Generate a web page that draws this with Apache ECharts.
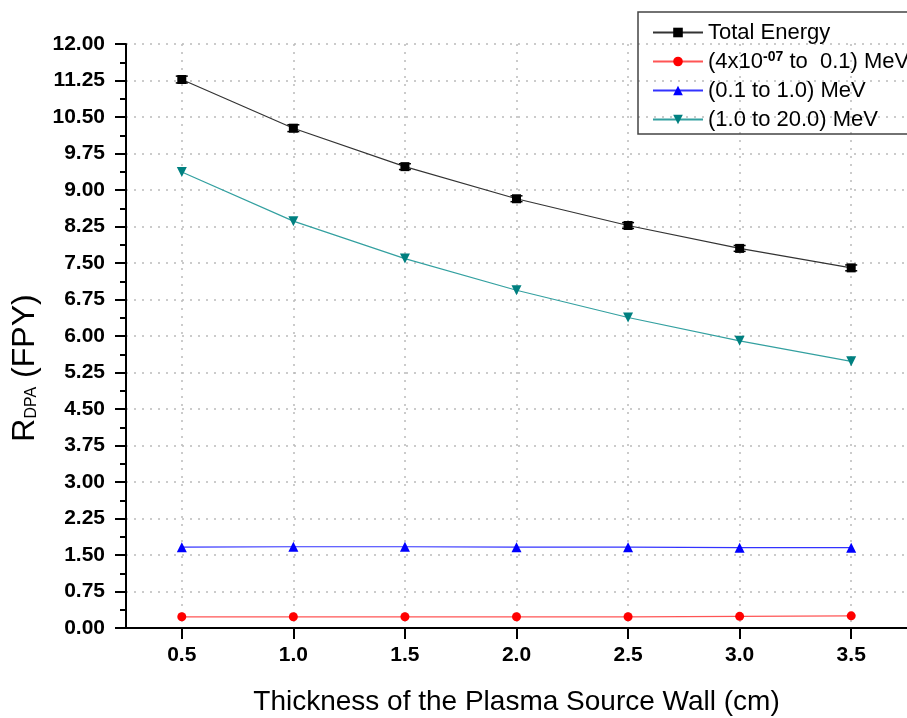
<!DOCTYPE html>
<html>
<head>
<meta charset="utf-8">
<script src="https://cdn.jsdelivr.net/npm/echarts@6/dist/echarts.min.js"></script>
<style>html,body{margin:0;padding:0;background:#fff}#c{width:907px;height:718px}</style>
</head>
<body>
<div id="c"></div>
<script>
var thickness = [0.5, 1.0, 1.5, 2.0, 2.5, 3.0, 3.5];
var totalEnergy = [11.27, 10.27, 9.48, 8.82, 8.27, 7.80, 7.40];
var totalErr = [0.07, 0.07, 0.06, 0.06, 0.06, 0.06, 0.06];
var lowEnergy = [0.23, 0.23, 0.23, 0.23, 0.23, 0.24, 0.25];
var midEnergy = [1.66, 1.67, 1.67, 1.66, 1.66, 1.65, 1.65];
var highEnergy = [9.37, 8.36, 7.59, 6.94, 6.38, 5.90, 5.48];
var seriesNames = ['Total Energy', '(4x10{sup|-07} to  0.1) MeV', '(0.1 to 1.0) MeV', '(1.0 to 20.0) MeV'];
var legendKeys = ['Total Energy', 'low', 'mid', 'high'];

function pairs(ys) { return thickness.map(function (x, i) { return [x, ys[i]]; }); }
var errData = thickness.map(function (x, i) { return [x, totalEnergy[i] - totalErr[i], totalEnergy[i] + totalErr[i]]; });

var chart = echarts.init(document.getElementById('c'));
var font = 'Liberation Sans, Arial, sans-serif';
chart.setOption({
  animation: false,
  backgroundColor: '#fff',
  grid: { left: 126, right: 0, top: 44, bottom: 90, containLabel: false, outerBoundsMode: 'none' },
  legend: {
    orient: 'vertical',
    left: 638, top: 12,
    data: legendKeys,
    itemWidth: 50, itemHeight: 12, itemGap: 6,
    padding: [9, 10, 3, 14],
    borderColor: '#444', borderWidth: 1.5,
    textStyle: { fontFamily: font, fontSize: 22, color: '#000', lineHeight: 23,
      rich: { sup: { fontSize: 14, verticalAlign: 'top', lineHeight: 14, fontFamily: font, fontWeight: 'bold', padding: [0, 0, 8, 0] } } },
    formatter: function (n) { return seriesNames[legendKeys.indexOf(n)]; }
  },
  xAxis: {
    type: 'value', min: 0.25, max: 3.75, interval: 0.5,
    name: 'Thickness of the Plasma Source Wall (cm)', nameLocation: 'middle', nameGap: 60,
    nameTextStyle: { fontFamily: font, fontSize: 28, color: '#000' },
    axisLine: { show: true, lineStyle: { color: '#000', width: 2 } },
    axisTick: { show: true, length: 11, lineStyle: { color: '#000', width: 2 },
      customValues: thickness },
    axisLabel: { fontFamily: font, fontSize: 21, fontWeight: 'bold', color: '#000', margin: 17,
      formatter: function (v) { return v.toFixed(1); }, customValues: thickness },
    splitLine: { show: true, lineStyle: { color: '#bbb', type: [2, 6], width: 1.5 } },
    minorTick: { show: false }
  },
  yAxis: {
    type: 'value', min: 0, max: 12, interval: 0.75,
    name: '{r|R}{sub|DPA}{r| (FPY)}', nameLocation: 'middle', nameGap: 78, nameRotate: 90,
    nameTextStyle: { fontFamily: font, fontSize: 32, color: '#000', padding: [0, 64, 0, 0],
      rich: { r: { fontFamily: font, fontSize: 32, lineHeight: 30, color: '#000', verticalAlign: 'top' },
              sub: { fontFamily: font, fontSize: 16, lineHeight: 16, color: '#000', verticalAlign: 'bottom', padding: [25, 0, 0, 0] } } },
    axisLine: { show: true, lineStyle: { color: '#000', width: 2 } },
    axisTick: { show: true, length: 11, lineStyle: { color: '#000', width: 2 } },
    minorTick: { show: true, splitNumber: 2, length: 6, lineStyle: { color: '#000', width: 2 } },
    axisLabel: { fontFamily: font, fontSize: 21, fontWeight: 'bold', color: '#000', margin: 21,
      formatter: function (v) { return v.toFixed(2); } },
    splitLine: { show: true, lineStyle: { color: '#bbb', type: [2, 6], width: 1.5 } }
  },
  series: [
    { name: 'Total Energy', type: 'line', data: pairs(totalEnergy), symbol: 'rect', symbolSize: 9,
      itemStyle: { color: '#000' }, lineStyle: { color: '#333', width: 1.2 }, z: 5 },
    { name: 'low', type: 'line', data: pairs(lowEnergy), symbol: 'circle', symbolSize: 9,
      itemStyle: { color: '#ff0000' }, lineStyle: { color: '#ff5555', width: 1.2 } },
    { name: 'mid', type: 'line', data: pairs(midEnergy), symbol: 'triangle', symbolSize: 10,
      itemStyle: { color: '#0000ff' }, lineStyle: { color: '#3333ff', width: 1.2 } },
    { name: 'high', type: 'line', data: pairs(highEnergy), symbol: 'triangle', symbolRotate: 180, symbolSize: 10,
      itemStyle: { color: '#008080' }, lineStyle: { color: '#33a0a0', width: 1.2 } },
    { name: 'err', type: 'custom', data: errData, z: 6, silent: true,
      renderItem: function (params, api) {
        var x = api.value(0);
        var lo = api.coord([x, api.value(1)]);
        var hi = api.coord([x, api.value(2)]);
        var w = 6;
        var st = { stroke: '#000', lineWidth: 1.5 };
        return { type: 'group', children: [
          { type: 'line', shape: { x1: lo[0], y1: lo[1], x2: hi[0], y2: hi[1] }, style: st },
          { type: 'line', shape: { x1: lo[0] - w, y1: lo[1], x2: lo[0] + w, y2: lo[1] }, style: st },
          { type: 'line', shape: { x1: hi[0] - w, y1: hi[1], x2: hi[0] + w, y2: hi[1] }, style: st }
        ] };
      } }
  ]
});
</script>
</body>
</html>
